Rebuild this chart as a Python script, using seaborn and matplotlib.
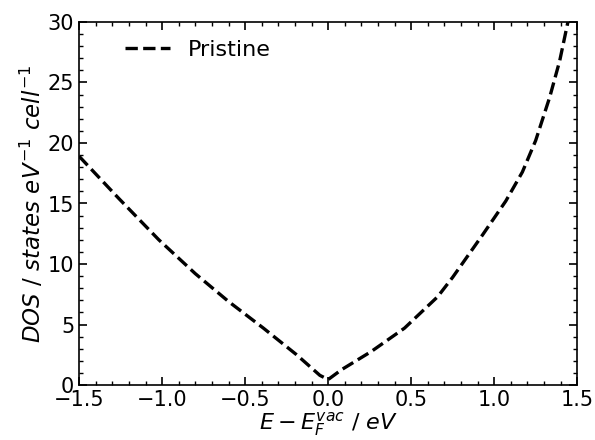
import numpy as np
import pandas as pd
import matplotlib
matplotlib.use("Agg")
import matplotlib.pyplot as plt
import seaborn as sns
from matplotlib.ticker import MultipleLocator

# DOS of pristine cell
energy = [-1.50, -1.26, -1.02, -0.80, -0.60, -0.39, -0.19, -0.05, 0.00,
          0.08, 0.26, 0.46, 0.66, 0.75, 0.93, 1.07, 1.17, 1.25, 1.335,
          1.395, 1.435, 1.46]
dos = [18.9, 15.4, 12.0, 9.2, 6.9, 4.7, 2.5, 0.8, 0.45,
       1.26, 2.77, 4.7, 7.3, 8.9, 12.4, 15.2, 17.6, 20.2, 23.8,
       26.8, 29.4, 31.0]
series = ["Pristine"] * len(energy)

df = pd.DataFrame({"E": energy, "DOS": dos, "label": series})

sns.set_style("ticks", rc={"axes.edgecolor": "black", "text.color": "black",
                           "axes.labelcolor": "black", "xtick.color": "black",
                           "ytick.color": "black"})
plt.rcParams["font.family"] = ["DejaVu Sans"]
plt.rcParams["mathtext.fontset"] = "dejavusans"

fig, ax = plt.subplots(figsize=(5.95, 4.4), dpi=100)
fig.subplots_adjust(left=0.133, right=0.970, top=0.950, bottom=0.125)

sns.lineplot(data=df, x="E", y="DOS", hue="label", palette=["black"],
             linestyle="--", linewidth=2.4, ax=ax, sort=False)

ax.set_xlim(-1.5, 1.5)
ax.set_ylim(0, 30)
ax.xaxis.set_major_locator(MultipleLocator(0.5))
ax.xaxis.set_minor_locator(MultipleLocator(0.1))
ax.yaxis.set_major_locator(MultipleLocator(5))
ax.yaxis.set_minor_locator(MultipleLocator(1))
ax.tick_params(which="both", direction="in", top=True, right=True, labelsize=15)
ax.tick_params(which="major", length=6, width=1.2)
ax.tick_params(which="minor", length=3, width=1)
for sp in ax.spines.values():
    sp.set_linewidth(1.2)

ax.set_xlabel(r"$E-E_F^{vac}\ /\ eV$", fontsize=16, labelpad=0)
ax.set_ylabel(r"$DOS\ /\ states\ eV^{-1}\ cell^{-1}$", fontsize=16.5, labelpad=1)

leg = ax.legend(loc="upper left", bbox_to_anchor=(0.074, 0.975), borderaxespad=0,
                frameon=False, fontsize=16, handlelength=2.05, handletextpad=0.8)
for line in leg.get_lines():
    line.set_linestyle("--")
    line.set_linewidth(2.4)

fig.savefig("out.png", dpi=100)
